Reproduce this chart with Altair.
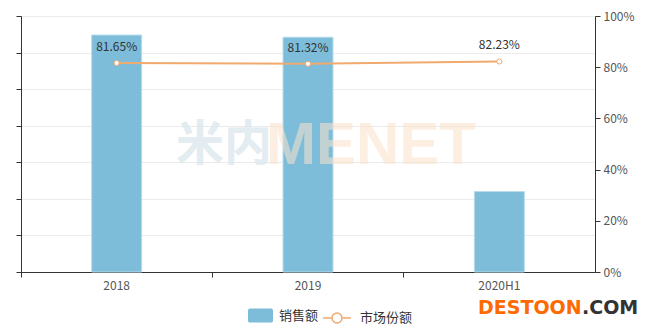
import altair as alt
import pandas as pd

categories = ["2018", "2019", "2020H1"]
sales = [64.8, 64.2, 22.0]
share = [81.65, 81.32, 82.23]
share_labels = ["81.65%", "81.32%", "82.23%"]

BLUE = "#7dbdda"
ORANGE = "#f0aa6e"
FONT = "Noto Sans CJK SC"

df = pd.DataFrame({
    "cat": categories,
    "sales": sales,
    "share": [v / 100 for v in share],
    "label": share_labels,
    "s1": ["销售额"] * 3,
    "s2": ["市场份额"] * 3,
})

x_enc = alt.X(
    "cat:N",
    sort=categories,
    scale=alt.Scale(paddingInner=0, paddingOuter=0),
    axis=alt.Axis(
        title=None, labelAngle=0, bandPosition=0, grid=False,
        domainColor="#333", tickColor="#333", tickSize=5,
        labelColor="#555", labelFontSize=12, labelFont=FONT, labelPadding=3,
    ),
)

rect_path = ("M-0.85,-0.56 H0.85 A0.15,0.15 0 0 1 1,-0.41 V0.41 A0.15,0.15 0 0 1 0.85,0.56 "
             "H-0.85 A0.15,0.15 0 0 1 -1,0.41 V-0.41 A0.15,0.15 0 0 1 -0.85,-0.56 Z")
line_path = ("M-1,0 H-0.36 A0.36,0.36 0 1 1 0.36,0 A0.36,0.36 0 1 1 -0.36,0 M0.36,0 H1")

bars = alt.Chart(df).mark_bar(size=50, stroke="#b8dcec", strokeWidth=1).encode(
    x=x_enc,
    y=alt.Y(
        "sales:Q",
        scale=alt.Scale(domain=[0, 70]),
        axis=alt.Axis(
            title=None, labels=False, values=[0, 10, 20, 30, 40, 50, 60, 70],
            orient="left", grid=True, gridColor="#ebebeb", domainColor="#333",
            tickColor="#333", tickSize=5,
        ),
    ),
    fill=alt.Fill(
        "s1:N",
        scale=alt.Scale(domain=["销售额"], range=[BLUE]),
        legend=alt.Legend(
            title=None, orient="none", legendX=227, legendY=287, padding=0,
            symbolType=rect_path, symbolSize=625, symbolStrokeWidth=0,
            labelFont=FONT, labelFontSize=13, labelColor="#333", labelOffset=6,
        ),
    ),
)

y_right = alt.Y(
    "share:Q",
    scale=alt.Scale(domain=[0, 1]),
    axis=alt.Axis(
        title=None, orient="right", format=".0%", values=[0, 0.2, 0.4, 0.6, 0.8, 1.0],
        grid=False, domainColor="#333", tickColor="#333", tickSize=5,
        labelColor="#555", labelFontSize=12, labelFont=FONT, labelPadding=3,
    ),
)

line = alt.Chart(df).mark_line(strokeWidth=2).encode(
    x=alt.X("cat:N", sort=categories),
    y=y_right,
    stroke=alt.Stroke(
        "s2:N",
        scale=alt.Scale(domain=["市场份额"], range=[ORANGE]),
        legend=alt.Legend(
            title=None, orient="none", legendX=301, legendY=287, padding=0,
            symbolType=line_path, symbolSize=784, symbolStrokeWidth=1.5,
            symbolFillColor="white",
            labelFont=FONT, labelFontSize=13, labelColor="#333", labelOffset=8,
        ),
    ),
)

points = alt.Chart(df).mark_point(
    shape="circle", filled=True, fill="white", stroke=ORANGE, strokeWidth=1, size=26, opacity=1
).encode(
    x=alt.X("cat:N", sort=categories),
    y=alt.Y("share:Q"),
)

labels = alt.Chart(df).mark_text(
    dy=-16, fontSize=12, color="#333", font=FONT
).encode(
    x=alt.X("cat:N", sort=categories),
    y=alt.Y("share:Q"),
    text="label:N",
)

right_layer = alt.layer(line, points, labels)

wm1 = alt.Chart(pd.DataFrame({"t": ["米内"]})).mark_text(
    font=FONT, fontSize=48, fontWeight="bold", color="#dce8ee", opacity=0.8,
    align="left", baseline="middle",
).encode(x=alt.value(155), y=alt.value(130), text="t:N")

wm2 = alt.Chart(pd.DataFrame({"t": ["MENET"]})).mark_text(
    font="Liberation Sans", fontSize=60, fontWeight="bold", color="#fbe3cc", opacity=0.55,
    align="left", baseline="middle",
).encode(x=alt.value(245), y=alt.value(130), text="t:N")

dest1 = alt.Chart(pd.DataFrame({"t": ["DESTOON"]})).mark_text(
    font="DejaVu Sans", fontSize=19, fontWeight="bold", color="#ff6a00",
    align="left", baseline="middle",
).encode(x=alt.value(457), y=alt.value(292), text="t:N")

dest2 = alt.Chart(pd.DataFrame({"t": [".COM"]})).mark_text(
    font="DejaVu Sans", fontSize=19, fontWeight="bold", color="#333333",
    align="left", baseline="middle",
).encode(x=alt.value(561), y=alt.value(292), text="t:N")

chart = alt.layer(bars, right_layer, wm1, wm2, dest1, dest2).resolve_scale(
    y="independent"
).properties(
    width=574, height=256,
    autosize=alt.AutoSizeParams(type="none"),
    padding={"left": 21, "top": 16, "right": 55, "bottom": 58},
).configure_view(stroke=None)

chart.save("out.html", embed_options={"renderer": "svg", "actions": False})
